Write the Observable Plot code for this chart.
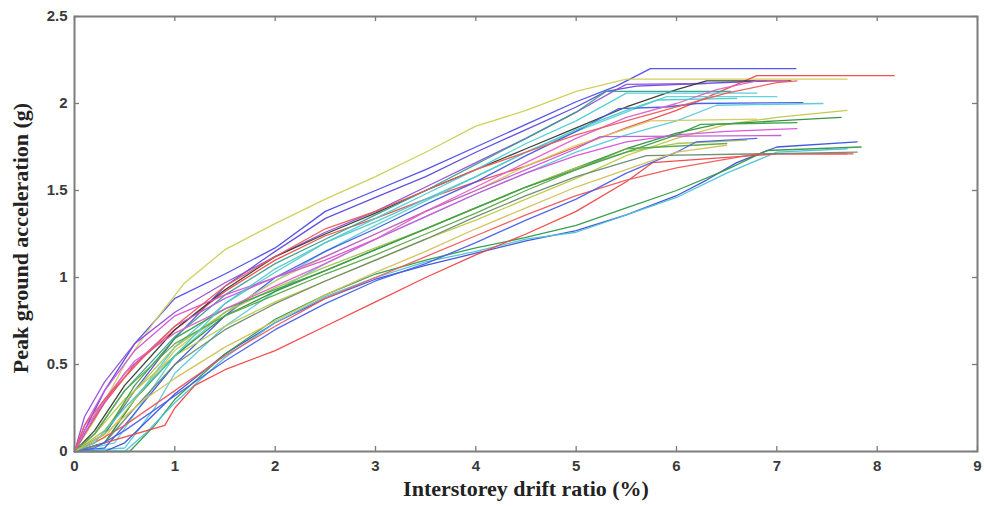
<!DOCTYPE html>
<html>
<head>
<meta charset="utf-8">
<script src="https://cdn.jsdelivr.net/npm/d3@7"></script>
<script src="https://cdn.jsdelivr.net/npm/@observablehq/plot@0.6"></script>
<style>
  html, body { margin: 0; padding: 0; background: #fff; }
  #chart { width: 984px; height: 506px; }
</style>
</head>
<body>
<div id="chart"></div>
<script>
// Tick values
const xTicks = [0, 1, 2, 3, 4, 5, 6, 7, 8, 9];
const yTicks = [0, 0.5, 1, 1.5, 2, 2.5];
const xTitle = "Interstorey drift ratio (%)";
const yTitle = "Peak ground acceleration (g)";

// IDA curves: [drift %, PGA g]
const blue1 = [[0,0],[0.1,0.12],[0.3,0.35],[0.6,0.62],[1,0.88],[1.5,1.02],[2,1.17],[2.5,1.38],[3,1.5],[3.5,1.62],[4,1.75],[4.5,1.88],[5,2.01],[5.4,2.1],[5.74,2.2],[7.19,2.2]];
const yellow1 = [[0,0],[0.2,0.18],[0.5,0.5],[0.8,0.75],[1.1,0.97],[1.5,1.16],[2,1.31],[2.5,1.45],[3,1.58],[3.5,1.72],[4,1.87],[4.5,1.96],[5,2.07],[5.5,2.14],[7.7,2.14]];
const blue2 = [[0,0],[0.3,0.1],[0.6,0.35],[1,0.65],[1.5,0.95],[2,1.15],[2.5,1.34],[3,1.46],[3.5,1.58],[4,1.72],[4.5,1.85],[5,1.98],[5.3,2.07],[5.6,2.1],[6.9,2.13]];
const purple1 = [[0,0],[0.1,0.2],[0.3,0.4],[0.6,0.62],[1,0.8],[1.5,0.97],[2,1.12],[2.5,1.26],[3,1.38],[3.5,1.52],[4,1.66],[4.5,1.8],[5,1.95],[5.4,2.08],[5.5,2.11],[6.3,2.115]];
const red1 = [[0,0],[0.1,0.1],[0.3,0.28],[0.6,0.5],[1,0.7],[1.5,0.92],[2,1.1],[2.5,1.24],[3,1.34],[3.5,1.45],[4,1.55],[4.5,1.64],[5,1.75],[5.5,1.86],[6,1.96],[6.4,2.06],[6.8,2.16],[8.17,2.16]];
const black1 = [[0,0],[0.2,0.12],[0.5,0.38],[1,0.7],[1.5,0.93],[2,1.12],[2.5,1.25],[3,1.37],[3.5,1.5],[4,1.62],[4.5,1.74],[5,1.86],[5.5,1.98],[6,2.08],[6.3,2.13],[7.14,2.13]];
const cyan1 = [[0,0],[0.3,0.05],[0.6,0.3],[1,0.6],[1.5,0.85],[2,1.03],[2.5,1.2],[3,1.34],[3.5,1.48],[4,1.62],[4.5,1.77],[5,1.9],[5.5,2.06],[6.8,2.06]];
const cyan2 = [[0,0],[0.4,0.05],[0.7,0.3],[1,0.55],[1.5,0.8],[2,0.98],[2.5,1.15],[3,1.3],[3.5,1.44],[4,1.58],[4.5,1.72],[5,1.84],[5.5,1.95],[5.9,2.04],[7.0,2.04]];
const teal1 = [[0,0],[0.2,0.1],[0.5,0.35],[1,0.66],[1.5,0.9],[2,1.08],[2.5,1.22],[3,1.36],[3.5,1.5],[4,1.65],[4.5,1.8],[5,1.95],[5.3,2.07],[6.54,2.07]];
const blue3 = [[0,0],[0.3,0.02],[0.5,0.15],[1,0.5],[1.5,0.78],[2,1.0],[2.5,1.15],[3,1.28],[3.5,1.42],[4,1.55],[4.5,1.7],[5,1.84],[5.42,1.97],[5.9,1.98],[6.2,2.0],[7.26,2.005]];
const cyan3 = [[0,0],[0.5,0.02],[0.8,0.25],[1,0.45],[1.5,0.72],[2,0.92],[2.5,1.08],[3,1.22],[3.5,1.35],[4,1.48],[4.5,1.6],[5,1.72],[5.5,1.82],[6,1.9],[6.4,1.99],[7.46,2.0]];
const yellow2 = [[0,0],[0.2,0.1],[0.5,0.3],[1,0.55],[1.5,0.72],[2,0.86],[2.5,0.98],[3,1.1],[3.5,1.22],[4,1.33],[4.5,1.45],[5,1.57],[5.5,1.7],[6,1.8],[6.5,1.88],[7,1.92],[7.7,1.96]];
const green1 = [[0,0],[0.3,0.05],[0.6,0.3],[1,0.55],[1.5,0.78],[2,0.92],[2.5,1.04],[3,1.16],[3.5,1.28],[4,1.4],[4.5,1.52],[5,1.63],[5.5,1.74],[6,1.83],[6.4,1.88],[7,1.9],[7.64,1.92]];
const yellow3 = [[0,0],[0.3,0.08],[0.6,0.3],[1,0.58],[1.5,0.8],[2,0.98],[2.5,1.12],[3,1.25],[3.5,1.38],[4,1.5],[4.5,1.64],[5,1.76],[5.74,1.9],[6.8,1.91]];
const magenta1 = [[0,0],[0.1,0.15],[0.3,0.35],[0.6,0.58],[1,0.78],[1.5,0.9],[2,1.0],[2.5,1.1],[3,1.22],[3.5,1.35],[4,1.48],[4.5,1.6],[5,1.7],[5.5,1.78],[6,1.82],[6.5,1.84],[7.2,1.856]];
const magenta2 = [[0,0],[0.2,0.2],[0.5,0.45],[1,0.72],[1.5,0.88],[2,1.0],[2.5,1.12],[3,1.25],[3.5,1.38],[4,1.5],[4.5,1.62],[5,1.74],[5.24,1.81],[7.04,1.816]];
const olive1 = [[0,0],[0.3,0.12],[0.6,0.35],[1,0.6],[1.5,0.8],[2,0.94],[2.5,1.06],[3,1.17],[3.5,1.28],[4,1.4],[4.5,1.52],[5,1.63],[5.5,1.72],[6,1.77],[6.7,1.79]];
const blue4 = [[0,0],[0.3,0],[0.5,0.05],[1,0.33],[1.5,0.56],[2,0.74],[2.5,0.88],[3,0.99],[3.5,1.07],[4,1.14],[4.5,1.21],[5,1.27],[5.5,1.36],[6,1.47],[6.3,1.56],[6.6,1.66],[7,1.75],[7.8,1.78]];
const green2 = [[0,0],[0.55,0],[0.8,0.15],[1,0.3],[1.5,0.56],[2,0.76],[2.5,0.9],[3,1.02],[3.5,1.1],[4,1.17],[4.5,1.23],[5,1.3],[5.5,1.4],[6,1.5],[6.5,1.62],[6.9,1.73],[7.84,1.75]];
const cyan4 = [[0,0],[0.5,0],[0.7,0.1],[1,0.28],[1.5,0.54],[2,0.74],[2.5,0.89],[3,1.0],[3.5,1.09],[4,1.15],[4.5,1.22],[5,1.26],[5.5,1.36],[6,1.46],[6.5,1.6],[7,1.72],[7.7,1.74]];
const red2 = [[0,0],[0.3,0.05],[0.6,0.1],[0.9,0.15],[1.0,0.25],[1.2,0.38],[1.5,0.47],[2,0.58],[2.5,0.72],[3,0.86],[3.5,1.0],[4,1.13],[4.5,1.25],[5,1.38],[5.5,1.55],[5.76,1.66],[6.5,1.69],[7.0,1.71],[7.76,1.71]];
const red3 = [[0,0],[0.2,0.05],[0.5,0.15],[1,0.35],[1.5,0.55],[2,0.72],[2.5,0.88],[3,1.0],[3.5,1.12],[4,1.24],[4.5,1.36],[5,1.47],[5.5,1.56],[6,1.63],[6.5,1.68],[6.8,1.71],[7.7,1.71]];
const grey1 = [[0,0],[0.3,0.05],[0.6,0.25],[1,0.5],[1.5,0.7],[2,0.85],[2.5,0.98],[3,1.1],[3.5,1.22],[4,1.35],[4.5,1.47],[5,1.58],[5.7,1.7],[7.8,1.72]];
const green3 = [[0,0],[0.3,0.1],[0.6,0.38],[1,0.65],[1.5,0.82],[2,0.93],[2.5,1.04],[3,1.16],[3.5,1.28],[4,1.4],[4.5,1.52],[5,1.62],[5.5,1.72],[6,1.82],[6.24,1.88],[7.2,1.89]];
const green4 = [[0,0],[0.2,0.1],[0.5,0.35],[1,0.62],[1.5,0.78],[2,0.9],[2.5,1.02],[3,1.13],[3.5,1.25],[4,1.37],[4.5,1.5],[5,1.62],[5.5,1.74],[6.5,1.77]];
const magenta3 = [[0,0],[0.1,0.12],[0.3,0.3],[0.6,0.52],[1,0.68],[1.5,0.82],[2,0.95],[2.5,1.08],[3,1.22],[3.5,1.38],[4,1.52],[4.5,1.66],[5,1.8],[5.5,1.92],[6,2.0],[6.4,2.08],[6.8,2.13],[7.1,2.13]];
const blue5 = [[0,0],[0.2,0.02],[0.5,0.12],[1,0.32],[1.5,0.52],[2,0.7],[2.5,0.85],[3,0.98],[3.5,1.08],[4,1.2],[4.5,1.33],[5,1.45],[5.5,1.6],[6,1.72],[6.2,1.78],[6.8,1.8]];
const cyan5 = [[0,0],[0.2,0.05],[0.5,0.25],[1,0.55],[1.5,0.85],[2,1.05],[2.5,1.2],[3,1.32],[3.5,1.45],[4,1.58],[4.5,1.72],[5,1.85],[5.5,1.96],[5.8,2.02],[6.6,2.03]];
const yellow4 = [[0,0],[0.3,0.1],[0.7,0.3],[1,0.42],[1.5,0.6],[2,0.75],[2.5,0.9],[3,1.03],[3.5,1.15],[4,1.28],[4.5,1.4],[5,1.52],[5.5,1.62],[6,1.72],[6.5,1.76]];
const red4 = [[0,0],[0.1,0.15],[0.3,0.3],[0.7,0.55],[1,0.72],[1.5,0.95],[2,1.12],[2.5,1.28],[3,1.38],[3.5,1.5],[4,1.62],[4.5,1.72],[5,1.82],[5.5,1.9],[6,1.98],[6.5,2.06],[7,2.12],[7.2,2.13]];

const seriesNames = ["blue1","yellow1","blue2","purple1","red1","black1","cyan1","cyan2","teal1","blue3","cyan3","yellow2","green1","yellow3","magenta1","magenta2","olive1","blue4","green2","cyan4","red2","red3","grey1","green3","green4","magenta3","blue5","cyan5","yellow4","red4"];
const seriesData = [blue1,yellow1,blue2,purple1,red1,black1,cyan1,cyan2,teal1,blue3,cyan3,yellow2,green1,yellow3,magenta1,magenta2,olive1,blue4,green2,cyan4,red2,red3,grey1,green3,green4,magenta3,blue5,cyan5,yellow4,red4];
const seriesColors = ["#4b4be6","#cdcd55","#5a4ad8","#9050d8","#f04a4a","#303a30","#4ccdd4","#5ad2d8","#3a9e8e","#3f5ae0","#58c8dc","#bfc848","#2e8e3a","#d0c860","#d850d8","#c058d8","#a8c050","#3a50d8","#2f9a44","#4ec0d8","#f04444","#ee5a5a","#6a8a70","#3aa048","#5aa848","#e060c8","#4a60e8","#50c8c8","#d2c058","#f05858"];

const rows = [];
seriesData.forEach((pts, i) => pts.forEach(([x, y]) => rows.push({series: seriesNames[i], x, y, color: seriesColors[i]})));

const W = 984, H = 506;
const mL = 74, mR = 7, mT = 16, mB = 55;
const pw = W - mL - mR, ph = H - mT - mB;
const tickLen = 5;

const chart = Plot.plot({
  width: W,
  height: H,
  marginLeft: mL,
  marginRight: mR,
  marginTop: mT,
  marginBottom: mB,
  style: {fontFamily: "Liberation Sans, Arial, sans-serif", background: "#fff", overflow: "visible"},
  x: {domain: [0, 9]},
  y: {domain: [0, 2.5]},
  marks: [
    Plot.lineY(rows, {x: "x", y: "y", z: "series", stroke: "color", strokeWidth: 1.3, strokeOpacity: 0.95}),
    // inward ticks on all four sides
    Plot.tickX(xTicks, {x: d => d, insetTop: ph - tickLen, stroke: "#7a7a7a", strokeWidth: 1.3}),
    Plot.tickX(xTicks, {x: d => d, insetBottom: ph - tickLen, stroke: "#7a7a7a", strokeWidth: 1.3}),
    Plot.tickY(yTicks, {y: d => d, insetRight: pw - tickLen, stroke: "#7a7a7a", strokeWidth: 1.3}),
    Plot.tickY(yTicks, {y: d => d, insetLeft: pw - tickLen, stroke: "#7a7a7a", strokeWidth: 1.3}),
    Plot.frame({stroke: "#7d7d7d", strokeWidth: 2}),
    Plot.axisX({ticks: xTicks, tickSize: 0, tickPadding: 9, label: null, fontSize: 15, fontWeight: "bold", fill: "#3a3a3a"}),
    Plot.axisY({ticks: yTicks, tickSize: 0, tickPadding: 7, label: null, fontSize: 15, fontWeight: "bold", fill: "#3a3a3a", tickFormat: d => String(d)}),
    Plot.text([xTitle], {text: d => d, frameAnchor: "bottom", textAnchor: "middle", dy: 44, fontSize: 22, fontWeight: "bold", fontFamily: "Liberation Serif, Times New Roman, serif", fill: "#222"}),
    Plot.text([yTitle], {text: d => d, frameAnchor: "left", textAnchor: "middle", rotate: -90, dx: -54, dy: 4, fontSize: 22, fontWeight: "bold", fontFamily: "Liberation Serif, Times New Roman, serif", fill: "#222"})
  ]
});
document.getElementById("chart").appendChild(chart);
</script>
</body>
</html>
